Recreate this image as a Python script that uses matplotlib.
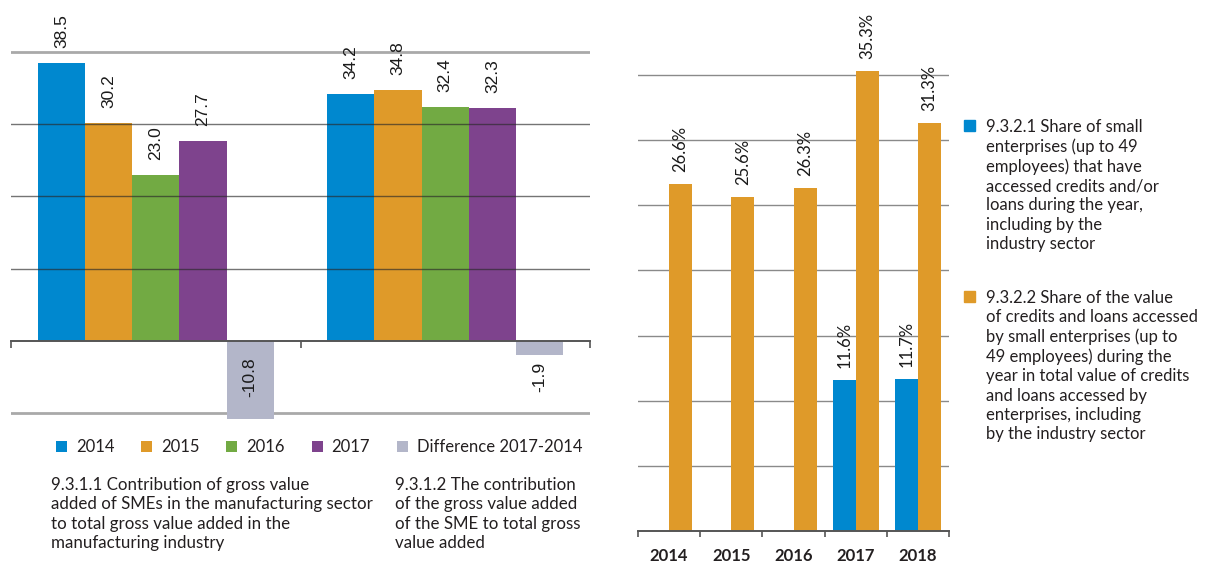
import matplotlib
matplotlib.use('Agg')
import matplotlib.pyplot as plt
import numpy as np
from matplotlib.patches import Rectangle

# ---------------- data ----------------
left_series = ['2014', '2015', '2016', '2017', 'Difference 2017-2014']
v2014 = [38.5, 34.2]
v2015 = [30.2, 34.8]
v2016 = [23.0, 32.4]
v2017 = [27.7, 32.3]
vdiff = [-10.8, -1.9]
left_captions = ['9.3.1.1 Contribution of gross value\nadded of SMEs in the manufacturing sector\nto total gross value added in the\nmanufacturing industry',
                 '9.3.1.2 The contribution\nof the gross value added\nof the SME to total gross\nvalue added']

right_years = ['2014', '2015', '2016', '2017', '2018']
share_small = [np.nan, np.nan, np.nan, 11.6, 11.7]
share_value = [26.6, 25.6, 26.3, 35.3, 31.3]
right_labels = ['9.3.2.1 Share of small\nenterprises (up to 49\nemployees) that have\naccessed credits and/or\nloans during the year,\nincluding by the\nindustry sector',
                '9.3.2.2 Share of the value\nof credits and loans accessed\nby small enterprises (up to\n49 employees) during the\nyear in total value of credits\nand loans accessed by\nenterprises, including\nby the industry sector']

colors = ['#0088CF', '#DF9A29', '#72AA43', '#7E438D', '#B3B6C9']

W, H = 1210, 565
fig = plt.figure(figsize=(W / 100, H / 100), dpi=100)


def rect(x0, x1, ytop, ybot):
    return [x0 / W, 1 - ybot / H, (x1 - x0) / W, (ybot - ytop) / H]


TXT = 'Lato'
TXTC = '#231f20'
NUMF = ['Liberation Sans', 'DejaVu Sans']

# ---------------- left chart ----------------
pxu = (413 - 52) / 50.0
ylo, yhi = -12, 47
ax1 = fig.add_axes(rect(11, 590, 52 - (yhi - 40) * pxu, 413 + (-10 - ylo) * pxu))
ax1.set_xlim(-0.5, 1.5)
ax1.set_ylim(ylo, yhi)
x = np.arange(2)
w = 0.163
left_vals = [v2014, v2015, v2016, v2017, vdiff]
for i, vals in enumerate(left_vals):
    xs = x + (i - 2) * w
    ax1.bar(xs, vals, w, color=colors[i], linewidth=0, zorder=2, label=left_series[i])
    for xx, v in zip(xs, vals):
        if v >= 0:
            ax1.annotate(f'{v:.1f}', (xx, v), xytext=(0, 15), textcoords='offset pixels',
                         rotation=90, ha='center', va='bottom', fontsize=12.5,
                         family=NUMF, color='#1a1a1a', annotation_clip=False)
        else:
            ax1.text(xx, -5, f'{v:.1f}', rotation=90, ha='center', va='center', fontsize=12.5,
                     family=NUMF, color='#1a1a1a')
for gy in [10, 20, 30]:
    ax1.axhline(gy, color='#2a2a2a', alpha=0.65, lw=1, zorder=3)
for gy in [40, -10]:
    ax1.axhline(gy, color='#a9a9a9', lw=2, zorder=1)
for s in ['top', 'right', 'left']:
    ax1.spines[s].set_visible(False)
ax1.spines['bottom'].set_position(('data', 0))
ax1.spines['bottom'].set_color('#555555')
ax1.spines['bottom'].set_linewidth(1.4)
ax1.spines['bottom'].set_zorder(4)
ax1.set_xticks([-0.5, 0.5, 1.5])
ax1.set_xticklabels([])
ax1.tick_params(axis='x', length=5, width=1.2, color='#555555', direction='out')
ax1.set_yticks([])

handles, labels = ax1.get_legend_handles_labels()
fig.legend(handles, labels, loc='center left', bbox_to_anchor=(56 / W, 1 - 447.5 / H), ncol=5,
           frameon=False, prop={'family': TXT, 'size': 12}, handlelength=0.66, handleheight=0.66,
           handletextpad=0.54, columnspacing=1.6, borderaxespad=0, borderpad=0, labelcolor=TXTC)

fig.text(51 / W, 1 - 477 / H, left_captions[0], ha='left', va='top', family=TXT, fontsize=12.2,
         color=TXTC, linespacing=1.25)
fig.text(395 / W, 1 - 477 / H, left_captions[1], ha='left', va='top', family=TXT, fontsize=12.2,
         color=TXTC, linespacing=1.25)

# ---------------- right chart ----------------
rpx = (531 - 75) / 35.0
rtop = 37
ax2 = fig.add_axes(rect(638, 949, 531 - rtop * rpx, 531))
ax2.set_xlim(-0.5, 4.5)
ax2.set_ylim(0, rtop)
xr = np.arange(len(right_years))
bw = 0.37
for off, vals, col in [(-bw / 2, share_small, colors[0]), (bw / 2, share_value, colors[1])]:
    ax2.bar(xr + off, vals, bw, color=col, linewidth=0, zorder=2)
    for xx, v in zip(xr + off, vals):
        if np.isfinite(v):
            ax2.annotate(f'{v:.1f}%', (xx, v), xytext=(0, 12), textcoords='offset pixels',
                         rotation=90, ha='center', va='bottom', fontsize=12, family=TXT,
                         color='#1a1a1a', annotation_clip=False)
ax2.set_yticks(np.arange(5, 36, 5))
ax2.yaxis.grid(True, color='#8a8a8a', lw=1)
ax2.set_axisbelow(True)
ax2.tick_params(axis='y', length=0, labelleft=False)
for s in ['top', 'right', 'left']:
    ax2.spines[s].set_visible(False)
ax2.spines['bottom'].set_color('#555555')
ax2.spines['bottom'].set_linewidth(1.4)
ax2.set_xticks(xr)
ax2.set_xticklabels(right_years, family=TXT, fontweight='bold', fontsize=12, color=TXTC)
ax2.set_xticks(np.arange(-0.5, 5, 1), minor=True)
ax2.tick_params(axis='x', which='major', length=0, pad=12)
ax2.tick_params(axis='x', which='minor', length=4, width=1.2, color='#555555')

# right legend
for k, (lab, col, ytop) in enumerate(zip(right_labels, [colors[0], colors[1]], [120, 291])):
    fig.patches.append(Rectangle((964 / W, 1 - (ytop + 11) / H), 11 / W, 11 / H,
                                 transform=fig.transFigure, color=col, figure=fig))
    fig.text(986 / W, 1 - (ytop - 1) / H, lab, ha='left', va='top', family=TXT, fontsize=12,
             color=TXTC, linespacing=1.25)

fig.savefig('out.png', dpi=100)
